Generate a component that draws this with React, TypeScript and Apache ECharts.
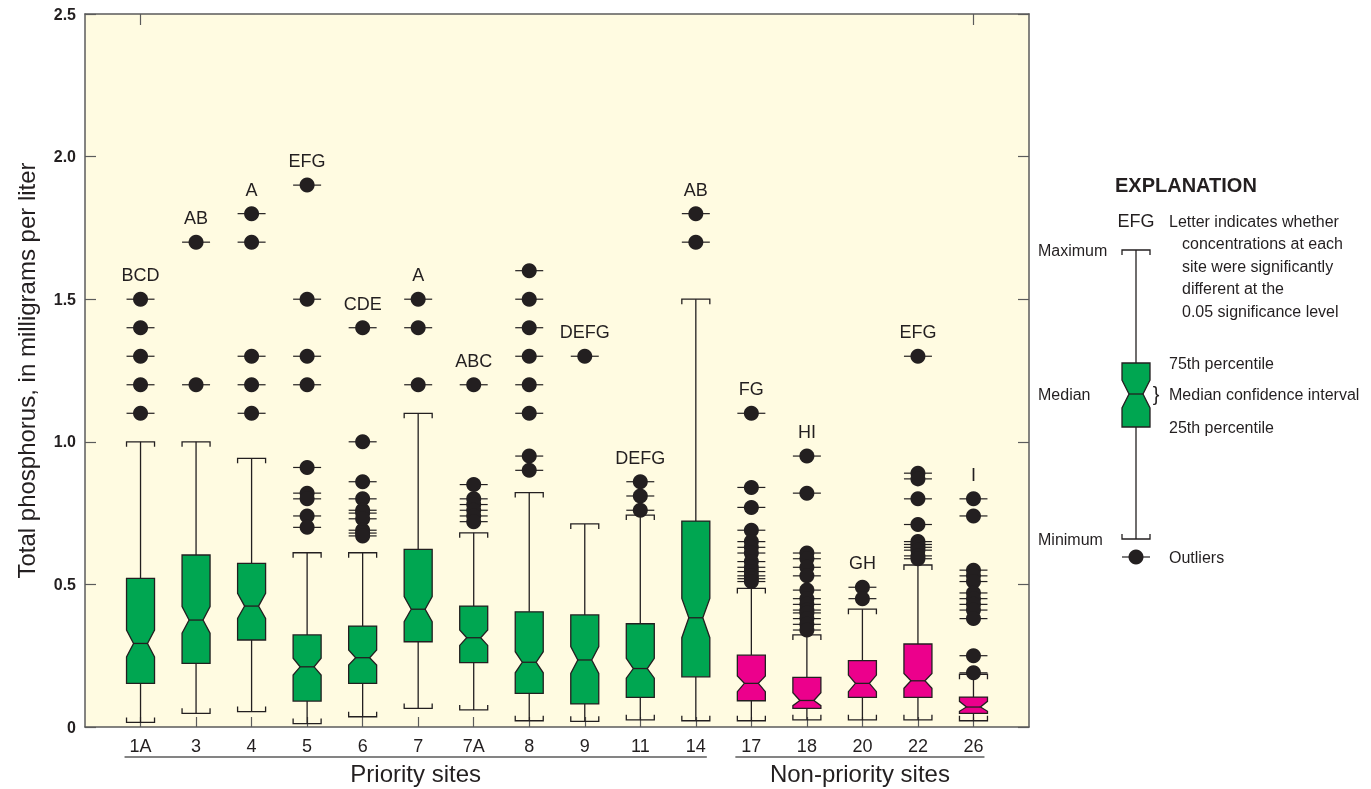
import React, { useEffect, useRef } from 'react';
import * as echarts from 'echarts';

// ---------------- data ----------------
const sites = ['1A', '3', '4', '5', '6', '7', '7A', '8', '9', '11', '14', '17', '18', '20', '22', '26'];
const siteGroups = [
  'Priority sites', 'Priority sites', 'Priority sites', 'Priority sites', 'Priority sites', 'Priority sites',
  'Priority sites', 'Priority sites', 'Priority sites', 'Priority sites', 'Priority sites',
  'Non-priority sites', 'Non-priority sites', 'Non-priority sites', 'Non-priority sites', 'Non-priority sites',
];
const minimums = [0.016, 0.048, 0.054, 0.012, 0.036, 0.065, 0.06, 0.022, 0.02, 0.025, 0.022, 0.022, 0.025, 0.025, 0.025, 0.022];
const q1s = [0.153, 0.223, 0.305, 0.091, 0.153, 0.299, 0.226, 0.118, 0.081, 0.104, 0.176, 0.092, 0.065, 0.104, 0.104, 0.048];
const ciLows = [0.246, 0.329, 0.381, 0.182, 0.217, 0.369, 0.286, 0.19, 0.188, 0.171, 0.313, 0.124, 0.075, 0.124, 0.136, 0.055];
const medians = [0.293, 0.375, 0.424, 0.211, 0.243, 0.413, 0.313, 0.227, 0.235, 0.205, 0.383, 0.153, 0.093, 0.153, 0.162, 0.07];
const ciHighs = [0.34, 0.422, 0.469, 0.241, 0.27, 0.457, 0.34, 0.264, 0.282, 0.241, 0.451, 0.179, 0.12, 0.182, 0.188, 0.09];
const q3s = [0.521, 0.603, 0.574, 0.323, 0.354, 0.623, 0.424, 0.404, 0.393, 0.362, 0.722, 0.252, 0.174, 0.233, 0.291, 0.105];
const maximums = [1.0, 1.0, 0.942, 0.611, 0.611, 1.1, 0.681, 0.822, 0.712, 0.743, 1.5, 0.486, 0.323, 0.413, 0.568, 0.185];
const outliers = [
  [1.5, 1.4, 1.3, 1.2, 1.1],
  [1.7, 1.2],
  [1.8, 1.7, 1.3, 1.2, 1.1],
  [1.9, 1.5, 1.3, 1.2, 0.91, 0.82, 0.8, 0.74, 0.7],
  [1.4, 1.0, 0.86, 0.8, 0.76, 0.75, 0.73, 0.69, 0.68, 0.67],
  [1.5, 1.4, 1.2],
  [1.2, 0.85, 0.8, 0.78, 0.76, 0.74, 0.72],
  [1.6, 1.5, 1.4, 1.3, 1.2, 1.1, 0.95, 0.9],
  [1.3],
  [0.86, 0.81, 0.76],
  [1.8, 1.7],
  [1.1, 0.84, 0.77, 0.69, 0.65, 0.63, 0.61, 0.58, 0.56, 0.545, 0.53, 0.52, 0.51],
  [0.95, 0.82, 0.61, 0.59, 0.56, 0.53, 0.48, 0.45, 0.43, 0.41, 0.4, 0.38, 0.36, 0.34],
  [0.49, 0.45],
  [1.3, 0.89, 0.87, 0.8, 0.71, 0.65, 0.64, 0.63, 0.62, 0.6, 0.59],
  [0.8, 0.74, 0.55, 0.53, 0.51, 0.47, 0.45, 0.43, 0.41, 0.38, 0.25, 0.19],
];
const letters = ['BCD', 'AB', 'A', 'EFG', 'CDE', 'A', 'ABC', '', 'DEFG', 'DEFG', 'AB', 'FG', 'HI', 'GH', 'EFG', 'I'];
const yTicks = [0, 0.5, 1.0, 1.5, 2.0, 2.5];

// ---------------- styles ----------------
const GREEN = '#00A651';
const MAGENTA = '#EC008C';
const INK = '#231F20';
const FRAME = '#5B5B5B';
const BG = '#FFFBE1';
const FONT = "'Liberation Sans', Arial, Helvetica, sans-serif";
const HW = 14;
const INSET = 7;
const CAP = 5;

export default function App() {
  const ref = useRef<HTMLDivElement>(null);

  useEffect(() => {
    const chart = echarts.init(ref.current!, null, { renderer: 'svg' });
    const categories = ['', ...sites, ''];

    const boxData = sites.map((s, i) => ({
      value: [s, minimums[i], q1s[i], ciLows[i], medians[i], ciHighs[i], q3s[i], maximums[i]],
      itemStyle: { color: siteGroups[i] === 'Priority sites' ? GREEN : MAGENTA },
    }));
    const outlierData: any[] = [];
    sites.forEach((s, i) => outliers[i].forEach((v) => outlierData.push([s, v])));
    const letterData = sites.map((s, i) => [s, Math.max(maximums[i], ...outliers[i])]);

    const line = { stroke: INK, lineWidth: 1.3, fill: 'none' };

    chart.setOption({
      animation: false,
      grid: {
        left: 85, top: 14, width: 944, height: 713, show: true, backgroundColor: BG, borderWidth: 0,
        containLabel: false, outerBoundsMode: 'none',
      },
      xAxis: [
        {
          type: 'category',
          data: categories,
          boundaryGap: false,
          axisLine: { onZero: false, lineStyle: { color: FRAME, width: 1.5 } },
          axisTick: { inside: true, length: 10, interval: (i: number) => i >= 1 && i <= sites.length, lineStyle: { color: FRAME, width: 1.2 } },
          axisLabel: { interval: 0, margin: 10, fontSize: 18, fontFamily: FONT, color: INK },
        },
        {
          type: 'category',
          position: 'top',
          data: categories,
          boundaryGap: false,
          axisLine: { onZero: false, lineStyle: { color: FRAME, width: 1.5 } },
          axisTick: { inside: true, length: 11, interval: (i: number) => i === 1 || i === sites.length, lineStyle: { color: FRAME, width: 1.2 } },
          axisLabel: { show: false },
        },
      ],
      yAxis: [
        {
          type: 'value', min: yTicks[0], max: yTicks[yTicks.length - 1], interval: 0.5,
          axisLine: { show: true, onZero: false, lineStyle: { color: FRAME, width: 1.5 } },
          axisTick: { show: true, inside: true, length: 11, lineStyle: { color: FRAME, width: 1.2 } },
          axisLabel: { margin: 9, fontSize: 16, fontWeight: 'bold', fontFamily: FONT, color: INK, formatter: (v: number) => (v === 0 ? '0' : v.toFixed(1)) },
          splitLine: { show: false },
          name: 'Total phosphorus, in milligrams per liter',
          nameLocation: 'middle', nameRotate: 90, nameGap: 47,
          nameTextStyle: { fontSize: 24, fontFamily: FONT, color: INK },
        },
        {
          type: 'value', position: 'right', min: yTicks[0], max: yTicks[yTicks.length - 1], interval: 0.5,
          axisLine: { show: true, onZero: false, lineStyle: { color: FRAME, width: 1.5 } },
          axisTick: { show: true, inside: true, length: 11, lineStyle: { color: FRAME, width: 1.2 } },
          axisLabel: { show: false },
          splitLine: { show: false },
        },
      ],
      series: [
        {
          type: 'custom',
          name: 'boxes',
          data: boxData,
          encode: { x: 0, y: [1, 2, 3, 4, 5, 6, 7] },
          renderItem: (params: any, api: any) => {
            const idx = api.value(0);
            const x = api.coord([idx, 0])[0];
            const yy = (d: number) => api.coord([idx, api.value(d)])[1];
            const yMin = yy(1), yQ1 = yy(2), yNL = yy(3), yMed = yy(4), yNH = yy(5), yQ3 = yy(6), yMax = yy(7);
            const color = api.visual('color');
            return {
              type: 'group',
              children: [
                { type: 'line', shape: { x1: x, y1: yMax, x2: x, y2: yQ3 }, style: line },
                { type: 'line', shape: { x1: x, y1: yQ1, x2: x, y2: yMin }, style: line },
                { type: 'polyline', shape: { points: [[x - HW, yMax + CAP], [x - HW, yMax], [x + HW, yMax], [x + HW, yMax + CAP]] }, style: line },
                { type: 'polyline', shape: { points: [[x - HW, yMin - CAP], [x - HW, yMin], [x + HW, yMin], [x + HW, yMin - CAP]] }, style: line },
                {
                  type: 'polygon',
                  shape: {
                    points: [
                      [x - HW, yQ3], [x + HW, yQ3], [x + HW, yNH], [x + HW - INSET, yMed], [x + HW, yNL], [x + HW, yQ1],
                      [x - HW, yQ1], [x - HW, yNL], [x - HW + INSET, yMed], [x - HW, yNH],
                    ],
                  },
                  style: { fill: color, stroke: INK, lineWidth: 1.3 },
                },
                { type: 'line', shape: { x1: x - HW + INSET, y1: yMed, x2: x + HW - INSET, y2: yMed }, style: line },
              ],
            };
          },
        },
        {
          type: 'custom',
          name: 'outliers',
          data: outlierData,
          encode: { x: 0, y: 1 },
          renderItem: (params: any, api: any) => {
            const [x, y] = api.coord([api.value(0), api.value(1)]);
            return {
              type: 'group',
              children: [
                { type: 'line', shape: { x1: x - HW, y1: y, x2: x + HW, y2: y }, style: { stroke: INK, lineWidth: 1.2 } },
                { type: 'circle', shape: { cx: x, cy: y, r: 7.5 }, style: { fill: INK } },
              ],
            };
          },
        },
        {
          type: 'custom',
          name: 'letters',
          data: letterData,
          encode: { x: 0, y: 1 },
          renderItem: (params: any, api: any) => {
            const [x, y] = api.coord([api.value(0), api.value(1)]);
            return {
              type: 'text',
              x, y: y - 15,
              style: { text: letters[params.dataIndex], align: 'center', verticalAlign: 'bottom', fontSize: 18, fontFamily: FONT, fill: INK },
            };
          },
        },
      ],
    });

    // group brackets under the category labels
    const px = (s: string) => chart.convertToPixel({ xAxisIndex: 0 }, s) as number;
    const groupNames = Array.from(new Set(siteGroups));
    const graphics: any[] = [];
    groupNames.forEach((g) => {
      const members = sites.filter((_, i) => siteGroups[i] === g);
      const x1 = px(members[0]) - 16;
      const x2 = px(members[members.length - 1]) + 11;
      graphics.push({ type: 'line', shape: { x1, y1: 757, x2, y2: 757 }, style: { stroke: FRAME, lineWidth: 1.5 } });
      graphics.push({ type: 'text', x: (x1 + x2) / 2, y: 773, style: { text: g, align: 'center', verticalAlign: 'middle', fontSize: 24, fontFamily: FONT, fill: INK } });
    });

    // explanation
    const cx = 1136;
    const L = { yMax: 250, yQ3: 363, yNH: 380, yMed: 394, yNL: 408, yQ1: 427, yMin: 539, yOut: 557 };
    const t = (text: string, x: number, y: number, extra: any = {}) => ({
      type: 'text', x, y,
      style: { text, align: 'left', verticalAlign: 'middle', fontSize: 16, fontFamily: FONT, fill: INK, ...extra },
    });
    graphics.push(
      t('EXPLANATION', 1115, 185, { fontSize: 20, fontWeight: 'bold' }),
      t('EFG', cx, 221, { align: 'center', fontSize: 18 }),
      t('Letter indicates whether', 1169, 221),
      t('concentrations at each', 1182, 243.5),
      t('site were significantly', 1182, 266),
      t('different at the', 1182, 288.5),
      t('0.05 significance level', 1182, 311),
      t('Maximum', 1038, L.yMax),
      t('75th percentile', 1169, L.yQ3),
      t('Median', 1038, L.yMed),
      t('Median confidence interval', 1169, L.yMed),
      t('25th percentile', 1169, L.yQ1),
      t('Minimum', 1038, L.yMin),
      t('Outliers', 1169, L.yOut),
      { type: 'text', x: 1156, y: L.yMed, style: { text: '}', align: 'center', verticalAlign: 'middle', fontSize: 20, fontFamily: FONT, fill: INK } },
      { type: 'line', shape: { x1: cx, y1: L.yMax, x2: cx, y2: L.yQ3 }, style: line },
      { type: 'line', shape: { x1: cx, y1: L.yQ1, x2: cx, y2: L.yMin }, style: line },
      { type: 'polyline', shape: { points: [[cx - HW, L.yMax + CAP], [cx - HW, L.yMax], [cx + HW, L.yMax], [cx + HW, L.yMax + CAP]] }, style: line },
      { type: 'polyline', shape: { points: [[cx - HW, L.yMin - CAP], [cx - HW, L.yMin], [cx + HW, L.yMin], [cx + HW, L.yMin - CAP]] }, style: line },
      {
        type: 'polygon',
        shape: {
          points: [
            [cx - HW, L.yQ3], [cx + HW, L.yQ3], [cx + HW, L.yNH], [cx + HW - INSET, L.yMed], [cx + HW, L.yNL], [cx + HW, L.yQ1],
            [cx - HW, L.yQ1], [cx - HW, L.yNL], [cx - HW + INSET, L.yMed], [cx - HW, L.yNH],
          ],
        },
        style: { fill: GREEN, stroke: INK, lineWidth: 1.3 },
      },
      { type: 'line', shape: { x1: cx - HW + INSET, y1: L.yMed, x2: cx + HW - INSET, y2: L.yMed }, style: line },
      { type: 'line', shape: { x1: cx - HW, y1: L.yOut, x2: cx + HW, y2: L.yOut }, style: { stroke: INK, lineWidth: 1.2 } },
      { type: 'circle', shape: { cx, cy: L.yOut, r: 7.5 }, style: { fill: INK } },
    );
    chart.setOption({ graphic: graphics });

    return () => chart.dispose();
  }, []);

  return <div ref={ref} style={{ position: 'fixed', left: 0, top: 0, width: 1371, height: 789 }} />;
}
